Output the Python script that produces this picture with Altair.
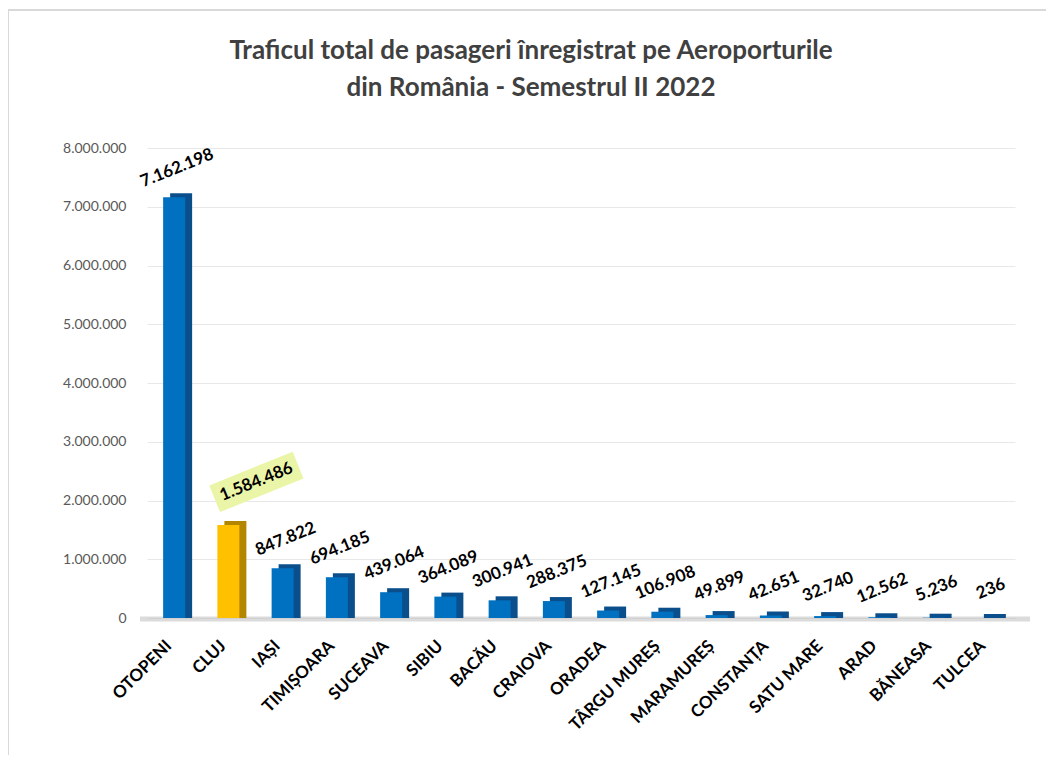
import altair as alt
import pandas as pd

airports = ["OTOPENI", "CLUJ", "IAȘI", "TIMIȘOARA", "SUCEAVA", "SIBIU", "BACĂU", "CRAIOVA",
            "ORADEA", "TÂRGU MUREȘ", "MARAMUREȘ", "CONSTANȚA", "SATU MARE", "ARAD", "BĂNEASA", "TULCEA"]
passengers = [7162198, 1584486, 847822, 694185, 439064, 364089, 300941, 288375,
              127145, 106908, 49899, 42651, 32740, 12562, 5236, 236]
highlighted = "CLUJ"
y_ticks = [0, 1000000, 2000000, 3000000, 4000000, 5000000, 6000000, 7000000, 8000000]
title_lines = ["Traficul total de pasageri înregistrat pe Aeroporturile",
               "din România - Semestrul II 2022"]

df = pd.DataFrame({
    "airport": airports,
    "passengers": passengers,
    "label": [f"{v:,}".replace(",", ".") for v in passengers],
})

FONT = "Lato"
W, H = 868, 470

base = alt.Chart(df)
x_enc = alt.X("airport:N", sort=airports, title=None,
              scale=alt.Scale(paddingInner=0, paddingOuter=0),
              axis=alt.Axis(labelAngle=315, labelFont=FONT, labelFontSize=17,
                            labelFontWeight="bold", labelColor="#000000",
                            labelAlign="right", labelBaseline="middle",
                            labelPadding=25, labelOffset=-5, ticks=False,
                            domain=False, grid=False))
y_enc = alt.Y("passengers:Q", title=None,
              scale=alt.Scale(domain=[0, 8000000], nice=False),
              axis=alt.Axis(values=y_ticks, labelFont=FONT, labelFontSize=14,
                            labelColor="#595959", labelPadding=21, ticks=False,
                            domain=False, gridColor="#e8e8e8",
                            labelExpr="replace(replace(format(datum.value, ','), ',', '.'), ',', '.')"))

is_hl = alt.datum.airport == highlighted

one = pd.DataFrame({"k": [0]})
frame_top = alt.Chart(one).mark_rule(color="#d9d9d9", strokeWidth=2).encode(
    x=alt.value(-139), x2=alt.value(907), y=alt.value(-138))
frame_left = alt.Chart(one).mark_rule(color="#d9d9d9", strokeWidth=2).encode(
    x=alt.value(-139), y=alt.value(-138), y2=alt.value(612))

shadow = alt.Chart(one).mark_rule(color="#bdbdbd", strokeWidth=5, opacity=0.55).encode(
    x=alt.value(-7), x2=alt.value(883), y=alt.value(H + 1))

back = base.mark_bar(size=22, xOffset=7, yOffset=-4, y2Offset=0).encode(
    x=x_enc, y=y_enc, y2=alt.datum(0),
    color=alt.condition(is_hl, alt.value("#b38600"), alt.value("#0a4f8c")))
front = base.mark_bar(size=22).encode(
    x=x_enc, y=y_enc,
    color=alt.condition(is_hl, alt.value("#FFC000"), alt.value("#0070C0")))

hl_box = base.transform_filter(is_hl).mark_point(
    shape="M-1,-0.32L1,-0.32L1,0.32L-1,0.32Z", size=8100, angle=338, filled=True,
    fill="#ebf5a8", opacity=1, strokeWidth=0, xOffset=28, yOffset=-43).encode(
    x=x_enc, y=y_enc)

labels = base.transform_filter(~is_hl).mark_text(
    angle=338, font=FONT, fontSize=17, fontWeight="bold", color="#000000",
    align="center", baseline="middle", yOffset=-29, xOffset=3).encode(
    x=x_enc, y=y_enc, text="label:N")
hl_label = base.transform_filter(is_hl).mark_text(
    angle=338, font=FONT, fontSize=17, fontWeight="bold", color="#000000",
    align="center", baseline="middle", yOffset=-43, xOffset=28).encode(
    x=x_enc, y=y_enc, text="label:N")

chart = alt.layer(frame_top, frame_left, shadow, back, front, hl_box, labels, hl_label).properties(
    width=W, height=H,
    autosize=alt.AutoSizeParams(type="none"),
    padding={"left": 139, "top": 140, "right": 31, "bottom": 137},
    background="#ffffff",
    title=alt.Title(text=title_lines, font=FONT, fontSize=26, fontWeight="bold",
                    color="#404040", anchor="middle", dx=-50, offset=-92, lineHeight=37),
).configure_view(stroke=None)

chart.save("out.html", embed_options={"renderer": "svg", "actions": False})
